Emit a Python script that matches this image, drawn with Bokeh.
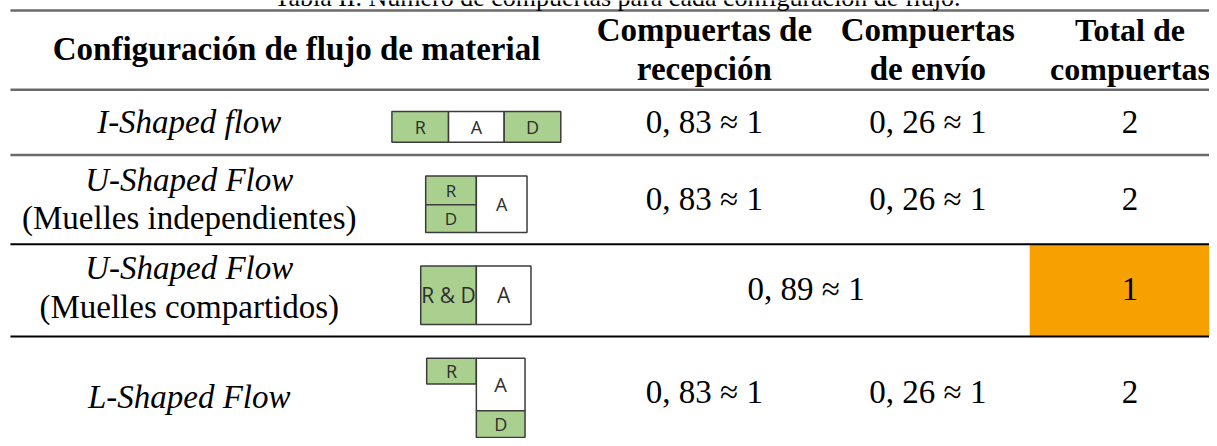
from bokeh.plotting import figure
from bokeh.models import Range1d, ColumnDataSource, Label
from bokeh.core.properties import value
from bokeh.embed import file_html
from bokeh.resources import INLINE

# ---------------- data ----------------
caption = "Tabla II. Número de compuertas para cada configuración de flujo."
header_config = "Configuración de flujo de material"
header_recepcion = ["Compuertas de", "recepción"]
header_envio = ["Compuertas", "de envío"]
header_total = ["Total de", "compuertas"]

configs = ["I-Shaped flow", "U-Shaped Flow", "U-Shaped Flow", "L-Shaped Flow"]
subtitles = ["", "(Muelles independientes)", "(Muelles compartidos)", ""]
recepcion = ["0, 83 ≈ 1", "0, 83 ≈ 1", "", "0, 83 ≈ 1"]
envio = ["0, 26 ≈ 1", "0, 26 ≈ 1", "", "0, 26 ≈ 1"]
compartido = ["", "", "0, 89 ≈ 1", ""]
total = ["2", "2", "1", "2"]
highlight = [False, False, True, False]

# diagram cells per configuration: labels and kinds (dock = green, area = white)
diagram_labels = [["R", "A", "D"], ["R", "D", "A"], ["R & D", "A"], ["R", "A", "D"]]
diagram_kinds = [["dock", "area", "dock"], ["dock", "dock", "area"], ["dock", "area"], ["dock", "area", "dock"]]

# ---------------- layout (pixels of the reference) ----------------
W, H = 1209, 438
col_edges = [10, 370, 586, 831, 1036, 1240]
col_c = [(col_edges[i] + col_edges[i + 1]) / 2 for i in range(5)]
col_c[4] = 1137
row_edges = [10, 90, 156, 246, 339, 470]
# vertical text centres: [name line1, name line2], values
name_mid = [[123, None], [181, 219], [270, 309], [400, None]]
val_mid = [123, 200, 291, 395]

# diagram cell geometry relative to (diagram centre x, row top y): (x0, x1, y0, y1)
diagram_geom = [
    [(-85, -28, 22, 53), (-28, 28, 22, 53), (28, 85, 22, 53)],
    [(-51, 0, 21, 50), (-51, 0, 50, 78), (0, 51, 21, 78)],
    [(-56, 0, 22, 81), (0, 55, 22, 81)],
    [(-50, 0, 22, 48), (0, 49, 22, 75), (0, 49, 75, 102)],
]
diagram_fs = [
    ["18px", "18px", "18px"],
    ["17px", "17px", "18px"],
    ["21px", "21px"],
    ["18px", "20px", "18px"],
]

GREEN = "#a9d08e"
ORANGE = "#f7a100"
SERIF = "Liberation Serif"
SANS = "Open Sans"
FS = "33px"

p = figure(width=W, height=H, x_range=Range1d(0, 1217), y_range=Range1d(442, 0),
           output_backend="svg", toolbar_location=None, min_border=0,
           x_axis_type=None, y_axis_type=None)
p.grid.visible = False
p.outline_line_color = None
p.background_fill_color = "white"
p.border_fill_color = "white"

# caption (its top is cut off by the page edge, as in the reference)
p.add_layout(Label(x=621, y=-3, text=caption, text_font=SERIF, text_font_size="26px",
                   text_align="center", text_baseline="middle", text_color="#000000"))

# highlighted total cells
hl_rows = [i for i, h in enumerate(highlight) if h]
p.quad(left=[col_edges[4]] * len(hl_rows), right=[col_edges[5]] * len(hl_rows),
       top=[row_edges[i + 1] for i in hl_rows], bottom=[row_edges[i + 2] for i in hl_rows],
       fill_color=ORANGE, line_color=None)

# rules
rule_y = row_edges[:5]
rule_col = ["#6b6b6b", "#6b6b6b", "#6b6b6b", "#000000", "#000000"]
rule_w = [2.5, 2.5, 2.5, 2, 2]
p.segment(x0=[col_edges[0]] * 5, x1=[col_edges[5]] * 5, y0=rule_y, y1=rule_y,
          line_color=rule_col, line_width=rule_w)


def txt(xs, ys, texts, style="normal", fs=FS, font=SERIF, color="#000000"):
    p.text(x=xs, y=ys, text=texts, text_font=value(font), text_font_style=style,
           text_font_size=value(fs), text_align="center", text_baseline="middle",
           text_color=color)


# headers
txt([(col_edges[0] + col_edges[2]) / 2], [49], [header_config], style="bold")
for ci, lines in zip([2, 3, 4], [header_recepcion, header_envio, header_total]):
    txt([col_c[ci]] * len(lines), [30, 69][:len(lines)], lines, style="bold",
        fs="33px" if ci < 4 else "32px")

# config names (italic) and subtitles (upright)
nx, ny, nt, sx, sy, st = [], [], [], [], [], []
for i in range(4):
    m1, m2 = name_mid[i]
    nx.append(col_c[0]); ny.append(m1); nt.append(configs[i])
    if subtitles[i]:
        sx.append(col_c[0]); sy.append(m2); st.append(subtitles[i])
txt(nx, ny, nt, style="italic")
txt(sx, sy, st)

# numeric values
vx, vy, vt = [], [], []
for i in range(4):
    if recepcion[i]:
        vx.append(col_c[2]); vy.append(val_mid[i]); vt.append(recepcion[i])
    if envio[i]:
        vx.append(col_c[3]); vy.append(val_mid[i]); vt.append(envio[i])
    if compartido[i]:
        vx.append((col_edges[2] + col_edges[4]) / 2); vy.append(val_mid[i]); vt.append(compartido[i])
    vx.append(col_c[4]); vy.append(val_mid[i]); vt.append(total[i])
txt(vx, vy, vt)

# diagrams
dl, dr, dt, db, df = [], [], [], [], []
lx, ly, lt, lfs = [], [], [], []
cx = 479
for i in range(4):
    top = row_edges[i + 1]
    for (x0, x1, y0, y1), lab, kind, fs in zip(diagram_geom[i], diagram_labels[i], diagram_kinds[i], diagram_fs[i]):
        dl.append(cx + x0); dr.append(cx + x1); dt.append(top + y0); db.append(top + y1)
        df.append(GREEN if kind == "dock" else "#ffffff")
        lx.append(cx + (x0 + x1) / 2); ly.append(top + (y0 + y1) / 2); lt.append(lab); lfs.append(fs)
p.quad(left=dl, right=dr, top=dt, bottom=db, fill_color=df, line_color="#3c3c3c", line_width=1.5)
src = ColumnDataSource(dict(x=lx, y=ly, t=lt, fs=lfs))
p.text(x="x", y="y", text="t", source=src, text_font=value(SANS), text_font_size="fs",
       text_align="center", text_baseline="middle", text_color="#2e2e2e", text_font_style="normal")

open("out.html", "w").write(file_html(p, INLINE))
